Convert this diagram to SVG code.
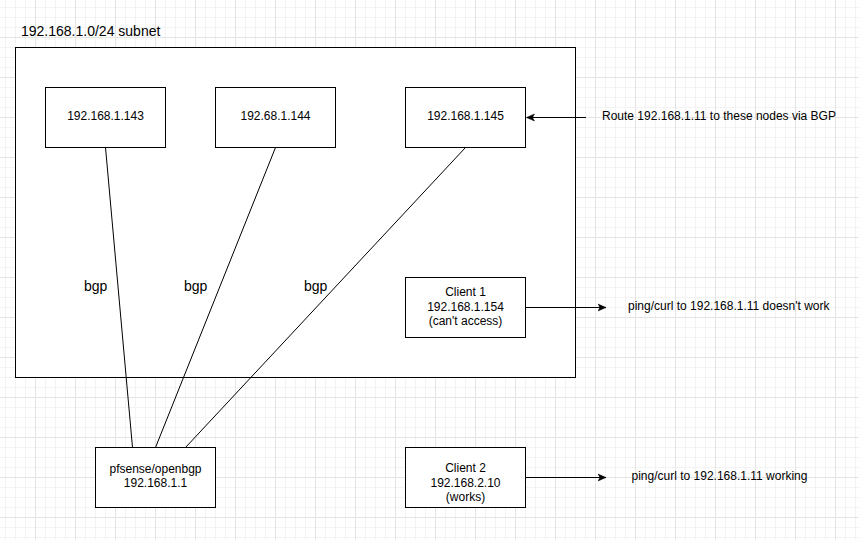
<svg xmlns="http://www.w3.org/2000/svg" width="859" height="540" viewBox="0 0 859 540">
  <style>
    .box { fill: #ffffff; stroke: #000000; stroke-width: 1; }
    .conn { fill: none; stroke: #000000; stroke-width: 1; }
    .arrow { fill: none; stroke: #000000; stroke-width: 1; marker-end: url(#classic); }
    text { font-family: "Liberation Sans", Arial, sans-serif; fill: #000000; }
    .t12 { font-size: 12px; }
    .t14 { font-size: 14px; }
    .mid { text-anchor: middle; }
  </style>
  <defs>
    <pattern id="grid" patternUnits="userSpaceOnUse" x="35" y="37" width="40" height="40">
      <path d="M10.5,0V40M20.5,0V40M30.5,0V40M0,10.5H40M0,20.5H40M0,30.5H40" stroke="#f3f3f3" stroke-width="1" fill="none"/>
      <path d="M0.5,0V40M0,0.5H40" stroke="#e4e4e4" stroke-width="1" fill="none"/>
    </pattern>
    <marker id="classic" markerUnits="userSpaceOnUse" markerWidth="9" markerHeight="9" viewBox="0 0 9 9" refX="8.5" refY="4.5" orient="auto">
      <path d="M0.5,1 L8.5,4.5 L0.5,8 L2.5,4.5 Z" fill="#000000" stroke="#000000" stroke-width="0.5"/>
    </marker>
  </defs>

  <rect x="0" y="0" width="859" height="540" fill="#ffffff"/>
  <rect x="0" y="0" width="859" height="540" fill="url(#grid)"/>

  <g id="subnet">
    <rect class="box" x="15.5" y="47.5" width="560" height="330"/>
    <text class="t14" x="21" y="35.5">192.168.1.0/24 subnet</text>
  </g>

  <g id="connectors">
    <line class="conn" x1="105.5" y1="147.5" x2="132.5" y2="447.5"/>
    <line class="conn" x1="275.5" y1="147.5" x2="155.5" y2="447.5"/>
    <line class="conn" x1="465.5" y1="147.5" x2="185.5" y2="447.5"/>
    <line class="arrow" x1="586" y1="117.5" x2="526.5" y2="117.5"/>
    <line class="arrow" x1="525.5" y1="307.5" x2="606" y2="307.5"/>
    <line class="arrow" x1="525.5" y1="477.5" x2="606" y2="477.5"/>
    <text class="t14" x="84" y="291">bgp</text>
    <text class="t14" x="184" y="291">bgp</text>
    <text class="t14" x="304" y="291">bgp</text>
  </g>

  <g id="node143">
    <rect class="box" x="45.5" y="87.5" width="120" height="60"/>
    <text class="t12 mid" x="105.5" y="119.5">192.168.1.143</text>
  </g>
  <g id="node144">
    <rect class="box" x="215.5" y="87.5" width="120" height="60"/>
    <text class="t12 mid" x="275.5" y="119.5">192.68.1.144</text>
  </g>
  <g id="node145">
    <rect class="box" x="405.5" y="87.5" width="120" height="60"/>
    <text class="t12 mid" x="465.5" y="119.5">192.168.1.145</text>
  </g>
  <g id="client1">
    <rect class="box" x="405.5" y="277.5" width="120" height="60"/>
    <text class="t12 mid" x="465.5" y="296">Client 1</text>
    <text class="t12 mid" x="465.5" y="310.5">192.168.1.154</text>
    <text class="t12 mid" x="465.5" y="324.5">(can't access)</text>
  </g>
  <g id="pfsense">
    <rect class="box" x="95.5" y="447.5" width="120" height="60"/>
    <text class="t12 mid" x="155.5" y="472.5">pfsense/openbgp</text>
    <text class="t12 mid" x="155.5" y="487">192.168.1.1</text>
  </g>
  <g id="client2">
    <rect class="box" x="405.5" y="447.5" width="120" height="60"/>
    <text class="t12 mid" x="465.5" y="472.3">Client 2</text>
    <text class="t12 mid" x="465.5" y="486.7">192.168.2.10</text>
    <text class="t12 mid" x="465.5" y="500.7">(works)</text>
  </g>

  <g id="note-route">
    <text class="t12" x="602" y="119.5">Route 192.168.1.11 to these nodes via BGP</text>
  </g>
  <g id="note-client1">
    <text class="t12" x="628" y="309.5">ping/curl to 192.168.1.11 doesn't work</text>
  </g>
  <g id="note-client2">
    <text class="t12" x="631.5" y="479.5">ping/curl to 192.168.1.11 working</text>
  </g>
</svg>
